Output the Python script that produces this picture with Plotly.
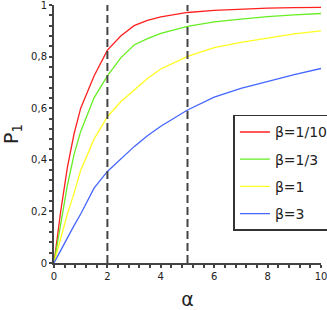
import plotly.graph_objects as go

alpha = [0, 0.25, 0.5, 0.75, 1, 1.5, 2, 2.5, 3, 3.5, 4, 5, 6, 7, 8, 9, 10]
p_beta_1_10 = [0, 0.2, 0.37, 0.5, 0.6, 0.725, 0.825, 0.88, 0.92, 0.94, 0.954, 0.971, 0.979, 0.984, 0.988, 0.99, 0.991]
p_beta_1_3 = [0, 0.15, 0.3, 0.42, 0.51, 0.64, 0.725, 0.795, 0.845, 0.87, 0.89, 0.917, 0.935, 0.945, 0.955, 0.962, 0.967]
p_beta_1 = [0, 0.1, 0.19, 0.27, 0.36, 0.48, 0.567, 0.625, 0.67, 0.715, 0.752, 0.801, 0.835, 0.855, 0.872, 0.888, 0.9]
p_beta_3 = [0, 0.05, 0.1, 0.145, 0.19, 0.29, 0.355, 0.405, 0.451, 0.493, 0.53, 0.593, 0.643, 0.677, 0.705, 0.73, 0.754]

series_names = ["β=1/10", "β=1/3", "β=1", "β=3"]
series_colors = ["#ff2020", "#66ee22", "#ffff22", "#4466ff"]
series_values = [p_beta_1_10, p_beta_1_3, p_beta_1, p_beta_3]

ref_alphas = [2, 5]

x_tickvals = [0, 2, 4, 6, 8, 10]
x_ticktext = ["0", "2", "4", "6", "8", "10"]
y_tickvals = [0, 0.2, 0.4, 0.6, 0.8, 1]
y_ticktext = ["0", "0,2", "0,4", "0,6", "0,8", "1"]

fig = go.Figure()
for i, (name, color, vals) in enumerate(zip(series_names, series_colors, series_values)):
    fig.add_trace(go.Scatter(x=alpha, y=vals, mode="lines", name=name, legendgroup=f"g{i}",
                             line=dict(color=color, width=1.3)))

for a in ref_alphas:
    fig.add_shape(type="line", x0=a, x1=a, y0=0, y1=1, xref="x", yref="y",
                  line=dict(color="#444444", width=2, dash="8px,4px"), layer="above")

axis_common = dict(
    showline=True, linecolor="#444444", linewidth=2, mirror=False, automargin=False,
    showgrid=False, zeroline=False, ticks="outside", ticklen=3, tickwidth=1.5,
    tickcolor="#444444", tickfont=dict(family="DejaVu Sans", size=10, color="#222222"),
    ticklabeloverflow="allow",
)

fig.update_layout(
    width=327, height=310,
    margin=dict(l=54, r=6, t=5, b=47, autoexpand=False),
    paper_bgcolor="white", plot_bgcolor="white",
    font=dict(family="DejaVu Sans", color="#222222"),
    xaxis=dict(range=[0, 10], tickvals=x_tickvals, ticktext=x_ticktext,
               minor=dict(dtick=0.4, tick0=0, ticks="outside", ticklen=3, tickwidth=1.5, tickcolor="#444444"),
               title=dict(text="α", font=dict(size=19, family="DejaVu Sans"), standoff=12),
               **axis_common),
    yaxis=dict(range=[0, 1], tickvals=y_tickvals, ticktext=y_ticktext,
               minor=dict(dtick=0.04, tick0=0, ticks="outside", ticklen=3, tickwidth=1.5, tickcolor="#444444"),
               title=dict(text="P<sub>1</sub>", font=dict(size=19, family="DejaVu Sans"), standoff=10),
               **axis_common),
    legend=dict(x=0.672, y=0.574, xanchor="left", yanchor="top",
                bordercolor="#333333", borderwidth=1.5, bgcolor="white",
                font=dict(size=14, family="DejaVu Sans", color="#222222"),
                itemwidth=30, tracegroupgap=6),
    showlegend=True,
)

fig.write_html("out.html", config={"displayModeBar": False},
               post_script="document.body.style.margin='0';")
